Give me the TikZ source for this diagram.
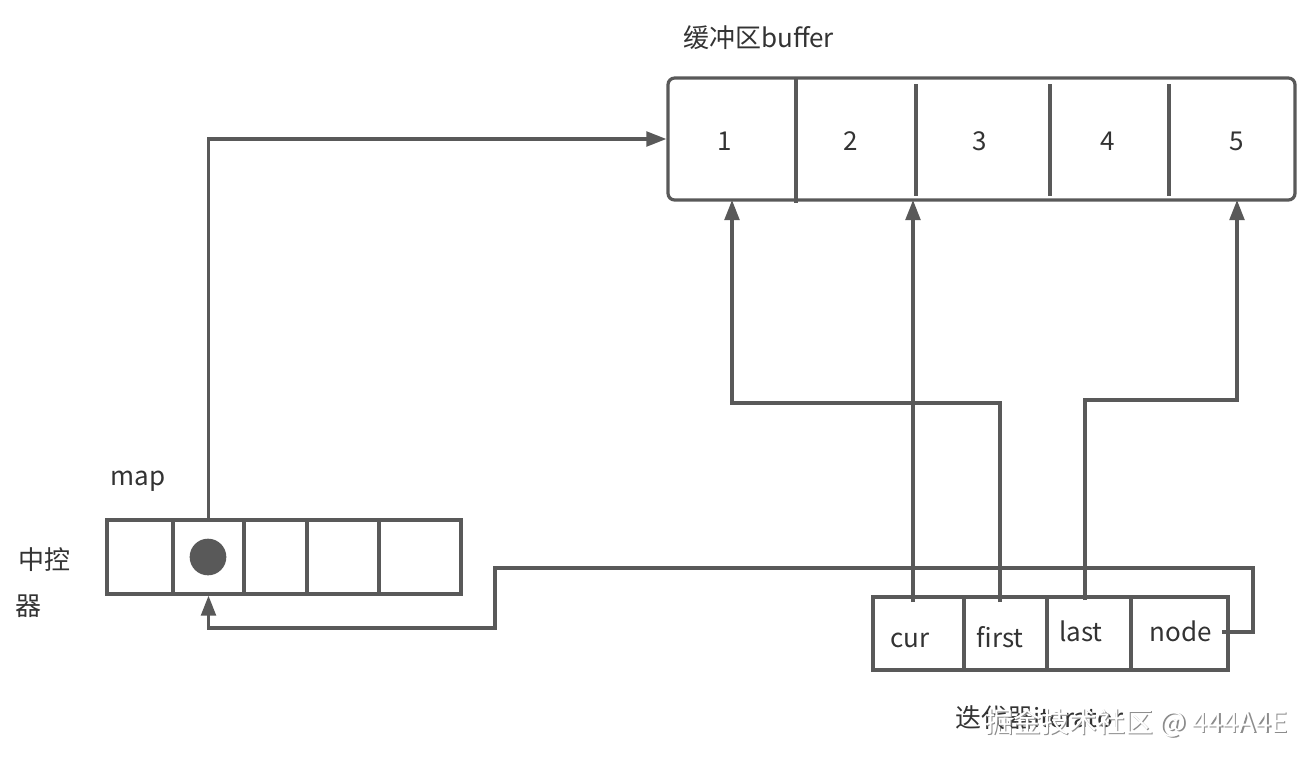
\documentclass[tikz,border=0pt]{standalone}
\usepackage{fontspec}
\newfontfamily\cjk{Noto Sans CJK SC}
\usetikzlibrary{arrows.meta,fit}
\definecolor{ln}{HTML}{595959}
\definecolor{tx}{HTML}{333333}
\tikzset{
  lbl/.style={font=\cjk\fontsize{19.5}{23}\selectfont, text=tx, inner sep=0pt},
  cell/.style={draw=ln, line width=2.4pt, inner sep=0pt},
  wire/.style={draw=ln, line width=2.4pt},
  arr/.style={wire, -{Triangle[length=15pt,width=11pt]}},
}
\begin{document}
\begin{tikzpicture}[x=0.75pt,y=-0.75pt]
\useasboundingbox (0,0) rectangle (1307,758);
% buffer
\node[lbl, anchor=base west] (buftitle) at (683,47) {缓冲区buffer};
\node[cell, rounded corners=5pt, fit={(668,78)(1295,200)}] (buf) {};
\draw[wire] (796,78) -- (796,203);
\foreach \x in {916,1050,1169} \draw[wire] (\x,84) -- (\x,196);
\node[lbl, anchor=base] (n1) at (725,150) {1};
\node[lbl, anchor=base] (n2) at (851,150) {2};
\node[lbl, anchor=base] (n3) at (980,150) {3};
\node[lbl, anchor=base] (n4) at (1108,150) {4};
\node[lbl, anchor=base] (n5) at (1237,150) {5};
% map
\node[lbl, anchor=base] (maplbl) at (138,485) {map};
\node[lbl, anchor=base] (ctl1) at (44,569) {中控};
\node[lbl, anchor=base] (ctl2) at (29,615) {器};
\node[cell, fit={(107,520)(173,594)}] (m1) {};
\node[cell, fit={(173,520)(244,594)}] (m2) {};
\node[cell, fit={(244,520)(307,594)}] (m3) {};
\node[cell, fit={(307,520)(379,594)}] (m4) {};
\node[cell, fit={(379,520)(461,594)}] (m5) {};
\node[circle, fill=ln, minimum size=27.5pt, inner sep=0pt] (dot) at (208,557) {};
% iterator
\node[cell, fit={(873,597)(964,670)}] (it1) {};
\node[cell, fit={(964,597)(1047,670)}] (it2) {};
\node[cell, fit={(1047,597)(1131,670)}] (it3) {};
\node[cell, fit={(1131,597)(1228,670)}] (it4) {};
\node[lbl, anchor=base] (cur) at (910,647) {cur};
\node[lbl, anchor=base] (first) at (1000,647) {first};
\node[lbl, anchor=base] (last) at (1081,641) {last};
\node[lbl, anchor=base] (nodel) at (1181,641) {node};
\node[lbl, anchor=base west] (itlbl) at (955,727) {迭代器iterator};
% watermark
\node[font=\cjk\fontsize{21}{25}\selectfont, text=black!45, inner sep=0pt, anchor=base west] (wms) at (986.5,733.5) {掘金技术社区 @ 444A4E};
\node[font=\cjk\fontsize{21}{25}\selectfont, text=white, inner sep=0pt, anchor=base west] (wm) at (985,732) {掘金技术社区 @ 444A4E};
% connector anchors
\coordinate (pcur) at (913,602);
\coordinate (pfirst) at (1000,602);
\coordinate (plast) at (1085,600);
\coordinate (pnode) at (1222,632);
\coordinate (b1) at (732,200);
\coordinate (b2) at (913,200);
\coordinate (b5) at (1237,200);
% connectors
\draw[arr] (m2.north) |- (buf.west);
\draw[arr] (pcur) -- (b2);
\draw[arr] (pfirst) |- (732,403) -- (b1);
\draw[arr] (plast) |- (1237,400) -- (b5);
\draw[arr] (pnode) -| (1253,568) -| (495,628) -| (m2.south);
\end{tikzpicture}
\end{document}
